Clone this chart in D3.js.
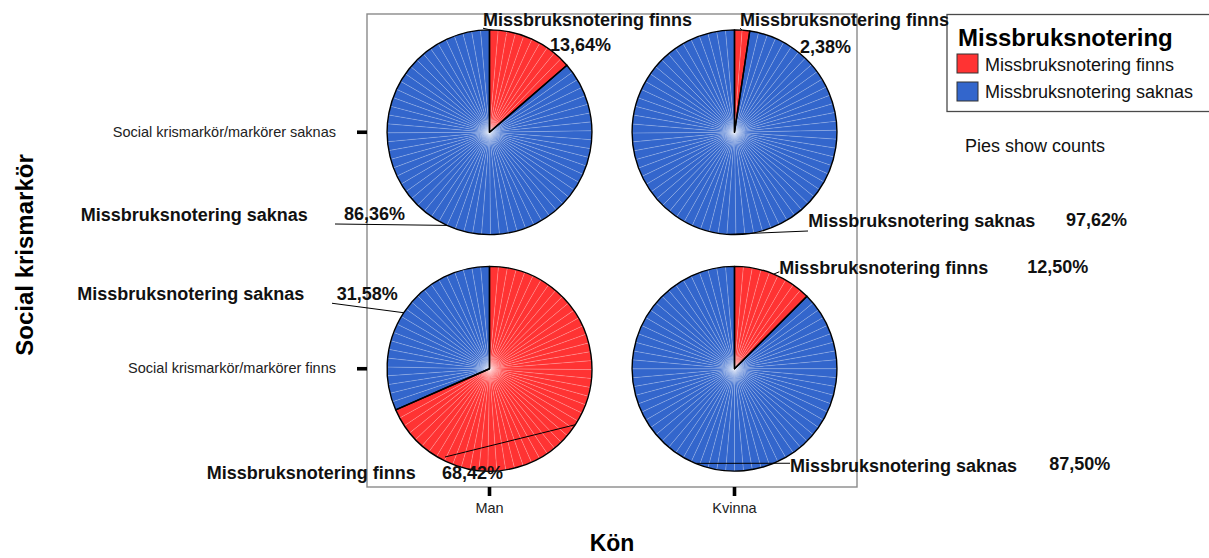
<!DOCTYPE html>
<html>
<head>
<meta charset="utf-8">
<script src="https://cdn.jsdelivr.net/npm/d3@7/dist/d3.min.js"></script>
<style>
  html, body { margin: 0; padding: 0; background: #ffffff; }
  svg { display: block; font-family: "Liberation Sans", Arial, sans-serif; }
</style>
</head>
<body>
<svg id="chart" width="1209" height="558"></svg>
<script>
// Panel categories
const sexes = ["Man", "Kvinna"];
const crisisGroups = ["Social krismarkör/markörer saknas", "Social krismarkör/markörer finns"];
const abuseLevels = ["Missbruksnotering finns", "Missbruksnotering saknas"];

// One entry per panel (row by row)
const cellSex = ["Man", "Kvinna", "Man", "Kvinna"];
const cellCrisis = [crisisGroups[0], crisisGroups[0], crisisGroups[1], crisisGroups[1]];
// Counts of cases per panel
const countFinns = [3, 1, 13, 1];
const countSaknas = [19, 41, 6, 7];

const sliceColors = ["#ff3333", "#3366cc"];

// Label placement per panel and slice, relative to the pie centre:
// [name dx, name dy, percent dx, percent dy, leader dx, leader dy, leader under pie]
const labelLayout = [
  [[-6.5, -106.5, 60.5, -81.3, -6.5, -104, true], [-408.8, 88.5, -145.5, 88, -154.5, 91.75, false]],
  [[5.5, -106.5, 65.5, -79.3, 5.5, -104, true], [73.8, 95, 331.5, 93.75, 73.5, 98.75, false]],
  [[-282.8, 110.25, -47.5, 110.25, -44.5, 88.25, false], [-412.2, -68.75, -152.8, -68.75, -157.5, -65.5, false]],
  [[44.8, -94.75, 292.8, -95.5, 44.8, -97, true], [55.5, 102.9, 314.8, 101.25, 55.5, 94.5, false]]
];

const svg = d3.select("#chart");
const frame = { x0: 367, x1: 857, y0: 14, y1: 487 };

const x = d3.scaleBand().domain(sexes).range([frame.x0, frame.x1]);
const y = d3.scaleBand().domain(crisisGroups).range([frame.y0, frame.y1]);
const color = d3.scaleOrdinal().domain(abuseLevels).range(sliceColors);
const radius = y.bandwidth() * 0.433;

const pctFmt = v => d3.format(".2f")(v).replace(".", ",") + "%";

// Soft highlight at the centre of every pie
const defs = svg.append("defs");
const glow = defs.append("radialGradient").attr("id", "glow")
  .attr("cx", "50%").attr("cy", "50%").attr("r", "50%");
glow.append("stop").attr("offset", "0%").attr("stop-color", "#fff").attr("stop-opacity", 0.4);
glow.append("stop").attr("offset", "7%").attr("stop-color", "#fff").attr("stop-opacity", 0.15);
glow.append("stop").attr("offset", "15%").attr("stop-color", "#fff").attr("stop-opacity", 0);

// Frame
svg.append("rect")
  .attr("x", frame.x0).attr("y", frame.y0)
  .attr("width", frame.x1 - frame.x0).attr("height", frame.y1 - frame.y0)
  .attr("fill", "none").attr("stroke", "#8a8a8a").attr("stroke-width", 1.4);

// Axes
const xAxis = svg.append("g")
  .attr("transform", `translate(0,${frame.y1})`)
  .call(d3.axisBottom(x).tickSize(9).tickPadding(7));
const yAxis = svg.append("g")
  .attr("transform", `translate(${frame.x0},0)`)
  .call(d3.axisLeft(y).tickSize(10).tickPadding(21));
[xAxis, yAxis].forEach(g => {
  g.select(".domain").remove();
  g.selectAll(".tick line").attr("stroke", "#000").attr("stroke-width", 3.6);
  g.selectAll(".tick text").attr("fill", "#222").style("font-size", "14.5px")
    .style("font-family", "'Liberation Sans', Arial, sans-serif");
});

// Axis titles
svg.append("text")
  .attr("x", (frame.x0 + frame.x1) / 2).attr("y", 551)
  .attr("text-anchor", "middle")
  .style("font-size", "23px").style("font-weight", "bold")
  .text("Kön");
svg.append("text")
  .attr("transform", "translate(33,255) rotate(-90)")
  .attr("text-anchor", "middle")
  .style("font-size", "24px").style("font-weight", "bold")
  .text("Social krismarkör");

// Legend
const legend = svg.append("g");
legend.append("rect")
  .attr("x", 947).attr("y", 14.5).attr("width", 275).attr("height", 97)
  .attr("fill", "#fff").attr("stroke", "#4a4a4a").attr("stroke-width", 1.3);
legend.append("text")
  .attr("x", 958).attr("y", 46)
  .style("font-size", "24px").style("font-weight", "bold")
  .text("Missbruksnotering");
abuseLevels.forEach((lvl, i) => {
  legend.append("rect")
    .attr("x", 957).attr("y", 54 + i * 28).attr("width", 21).attr("height", 19)
    .attr("fill", color(lvl)).attr("stroke", "#333").attr("stroke-width", 1);
  legend.append("text")
    .attr("x", 985).attr("y", 70.5 + i * 27.5)
    .style("font-size", "18px").attr("fill", "#111")
    .text(lvl);
});
svg.append("text")
  .attr("x", 965).attr("y", 152)
  .style("font-size", "18px").attr("fill", "#111")
  .text("Pies show counts");

// Pies
const pie = d3.pie().sort(null).value(d => d.count);
const step = 5 * Math.PI / 180;
const under = svg.append("g");
const pies = svg.append("g");
const over = svg.append("g");
const labels = svg.append("g");

cellSex.forEach((sex, i) => {
  const cx = x(sex) + x.bandwidth() / 2;
  const cy = y(cellCrisis[i]) + y.bandwidth() / 2;
  const total = countFinns[i] + countSaknas[i];
  const data = [
    { level: abuseLevels[0], count: countFinns[i] },
    { level: abuseLevels[1], count: countSaknas[i] }
  ];
  const arcs = pie(data);
  const arc = d3.arc().innerRadius(0).outerRadius(radius);
  const g = pies.append("g").attr("transform", `translate(${cx},${cy})`);

  // Fine radial facets inside each slice
  arcs.forEach(a => {
    const n = Math.max(1, Math.round((a.endAngle - a.startAngle) / step));
    const w = (a.endAngle - a.startAngle) / n;
    const parts = d3.range(n).map(k => ({ startAngle: a.startAngle + k * w, endAngle: a.startAngle + (k + 1) * w }));
    g.selectAll(null).data(parts).join("path")
      .attr("d", arc)
      .attr("fill", color(a.data.level))
      .attr("stroke", "rgba(255,255,255,0.28)")
      .attr("stroke-width", 0.6);
  });
  g.append("circle").attr("r", radius).attr("fill", "url(#glow)");
  g.selectAll(null).data(arcs).join("path")
    .attr("d", arc)
    .attr("fill", "none")
    .attr("stroke", "#000")
    .attr("stroke-width", 1.4)
    .attr("stroke-linejoin", "round");

  // Labels and leader lines
  arcs.forEach((a, j) => {
    const L = labelLayout[i][j];
    const mid = (a.startAngle + a.endAngle) / 2;
    const rx = cx + radius * Math.sin(mid);
    const ry = cy - radius * Math.cos(mid);
    (L[6] ? under : over).append("line")
      .attr("x1", rx).attr("y1", ry)
      .attr("x2", cx + L[4]).attr("y2", cy + L[5])
      .attr("stroke", "#000").attr("stroke-width", 1);
    labels.append("text")
      .attr("x", cx + L[0]).attr("y", cy + L[1])
      .style("font-size", "18px").style("font-weight", "bold").attr("fill", "#111")
      .text(a.data.level);
    labels.append("text")
      .attr("x", cx + L[2]).attr("y", cy + L[3])
      .style("font-size", "18px").style("font-weight", "bold").attr("fill", "#111")
      .text(pctFmt(a.data.count / total * 100));
  });
});
</script>
</body>
</html>
